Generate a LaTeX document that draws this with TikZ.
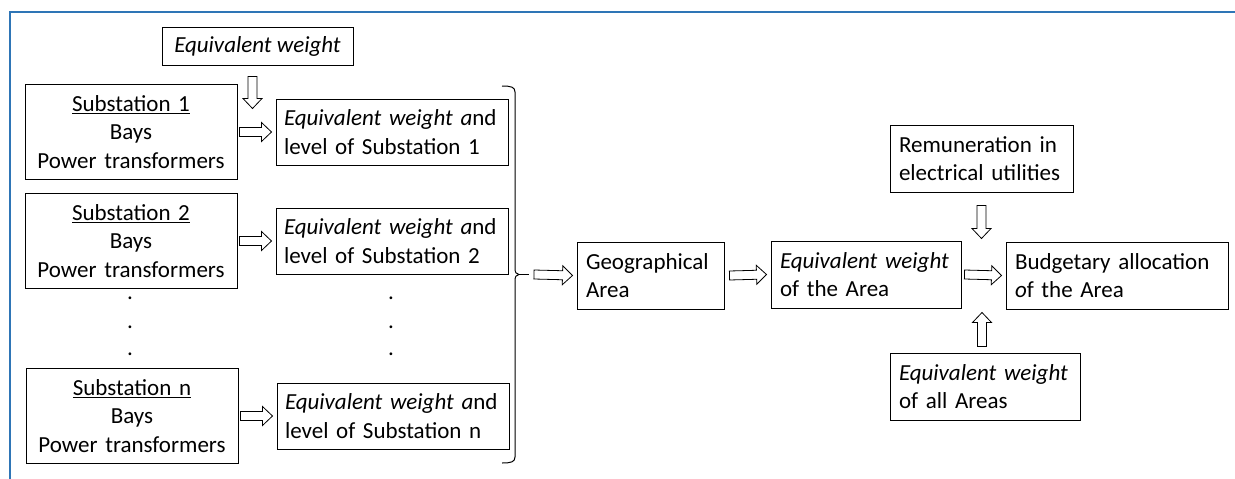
\documentclass[tikz,border=0pt]{standalone}
\usepackage{fontspec}
\setmainfont{Carlito}
\usetikzlibrary{calc}
\definecolor{frameblue}{RGB}{46,117,182}
\newcommand{\fs}{\fontsize{23}{28.5}\selectfont}
\newcommand{\hollowarrow}[2]{%
  \draw[arrowbody] let \p1=(#1), \p2=(#2),
      \n1={atan2(\y2-\y1,\x2-\x1)}, \n2={veclen(\x2-\x1,\y2-\y1)} in
    [shift={(\p1)}, rotate=\n1]
    (0pt,-4.5pt) -- (\n2-10pt,-4.5pt) -- (\n2-10pt,-9.5pt) -- (\n2+0pt,0pt)
    -- (\n2-10pt,9.5pt) -- (\n2-10pt,4.5pt) -- (0pt,4.5pt) -- cycle;}
\begin{document}
\begin{tikzpicture}[x=1pt,y=-1pt,
  box/.style={draw, line width=1pt, font=\fs, inner xsep=9pt, inner ysep=0pt, align=left},
  subbox/.style={box, align=center, minimum width=212pt, minimum height=95pt, text width=194pt},
  lvlbox/.style={box, inner xsep=8pt, minimum width=232pt, minimum height=66pt, text width=216pt},
  dotmark/.style={font=\fs, inner sep=0pt},
  arrowbody/.style={draw, line width=0.8pt, fill=white, line join=miter},
  bracestyle/.style={draw, line width=1pt}]
\useasboundingbox (0,0) rectangle (1235,479);
\draw[frameblue, line width=1.5pt] (10,479) -- (10,12) -- (1235,12);

% left column
\node[box, align=center, minimum width=191pt, minimum height=38pt] (top) at (257.5,46) {\textit{Equivalent weight}};
\node[subbox] (s1) at (131,132) {\underline{Substation 1}\\Bays\\Power transformers};
\node[subbox] (s2) at (131,241) {\underline{Substation 2}\\Bays\\Power transformers};
\node[subbox] (sn) at (132,416) {\underline{Substation n}\\Bays\\Power transformers};

\node[lvlbox] (b1) at (392,132) {\textit{Equivalent weight a}nd\\level of Substation 1};
\node[lvlbox] (b2) at (392,241) {\textit{Equivalent weight a}nd\\level of Substation 2};
\node[lvlbox] (bn) at (393,416) {\textit{Equivalent weight a}nd\\level of Substation n};

\node[dotmark] (dl1) at (130,298) {.};
\node[dotmark] (dl2) at (130,327) {.};
\node[dotmark] (dl3) at (130,354) {.};
\node[dotmark] (dr1) at (391,298) {.};
\node[dotmark] (dr2) at (391,327) {.};
\node[dotmark] (dr3) at (391,354) {.};

% brace
\coordinate (bt) at (502,86);
\coordinate (bb) at (502,463);
\coordinate (bm) at (529,274.5);
\path[bracestyle] (bt) .. controls (511,86) and (515,87) .. (515,92) -- (515,268)
  .. controls (515,272) and (516,274.5) .. (519,274.5)
  .. controls (516,274.5) and (515,277) .. (515,281) -- (515,457)
  .. controls (515,462) and (511,463) .. (bb);
\path[bracestyle] (519,274.5) -- (bm);

% right part
\node[box, minimum width=147pt, minimum height=67pt, text width=129pt] (geo) at (650.5,275.5) {Geographical\\Area};
\node[box, minimum width=190pt, minimum height=67pt, text width=172pt] (area) at (866,274.5) {\textit{Equivalent weight}\\of the Area};
\node[box, minimum width=183pt, minimum height=67pt, text width=165pt] (rem) at (981.5,158.5) {Remuneration in\\electrical utilities};
\node[box, minimum width=222pt, minimum height=67pt, text width=204pt] (bud) at (1117,275.5) {Budgetary allocation\\\textit{o}f the Area};
\node[box, minimum width=190pt, minimum height=67pt, text width=172pt] (all) at (985,386.5) {\textit{Equivalent weight}\\of all Areas};

% arrows
\hollowarrow{$(top.south)+(-5,11)$}{$(top.south)+(-5,43)$}
\hollowarrow{$(s1.east)+(2,0)$}{$(b1.west)+(-4,0)$}
\hollowarrow{$(s2.east)+(2,0)$}{$(b2.west)+(-4,0)$}
\hollowarrow{$(sn.east)+(2,0)$}{$(bn.west)+(-4,0)$}
\hollowarrow{$(bm)+(5,0)$}{$(geo.west)+(-4,0)$}
\hollowarrow{$(geo.east)+(5,0)$}{$(area.west)+(-4,0)$}
\hollowarrow{$(area.east)+(3,0)$}{$(bud.west)+(-4,0)$}
\hollowarrow{$(rem.south)+(0,13)$}{$(rem.south)+(0,46)$}
\hollowarrow{$(all.north)+(-3,-6)$}{$(all.north)+(-3,-40)$}
\end{tikzpicture}
\end{document}
